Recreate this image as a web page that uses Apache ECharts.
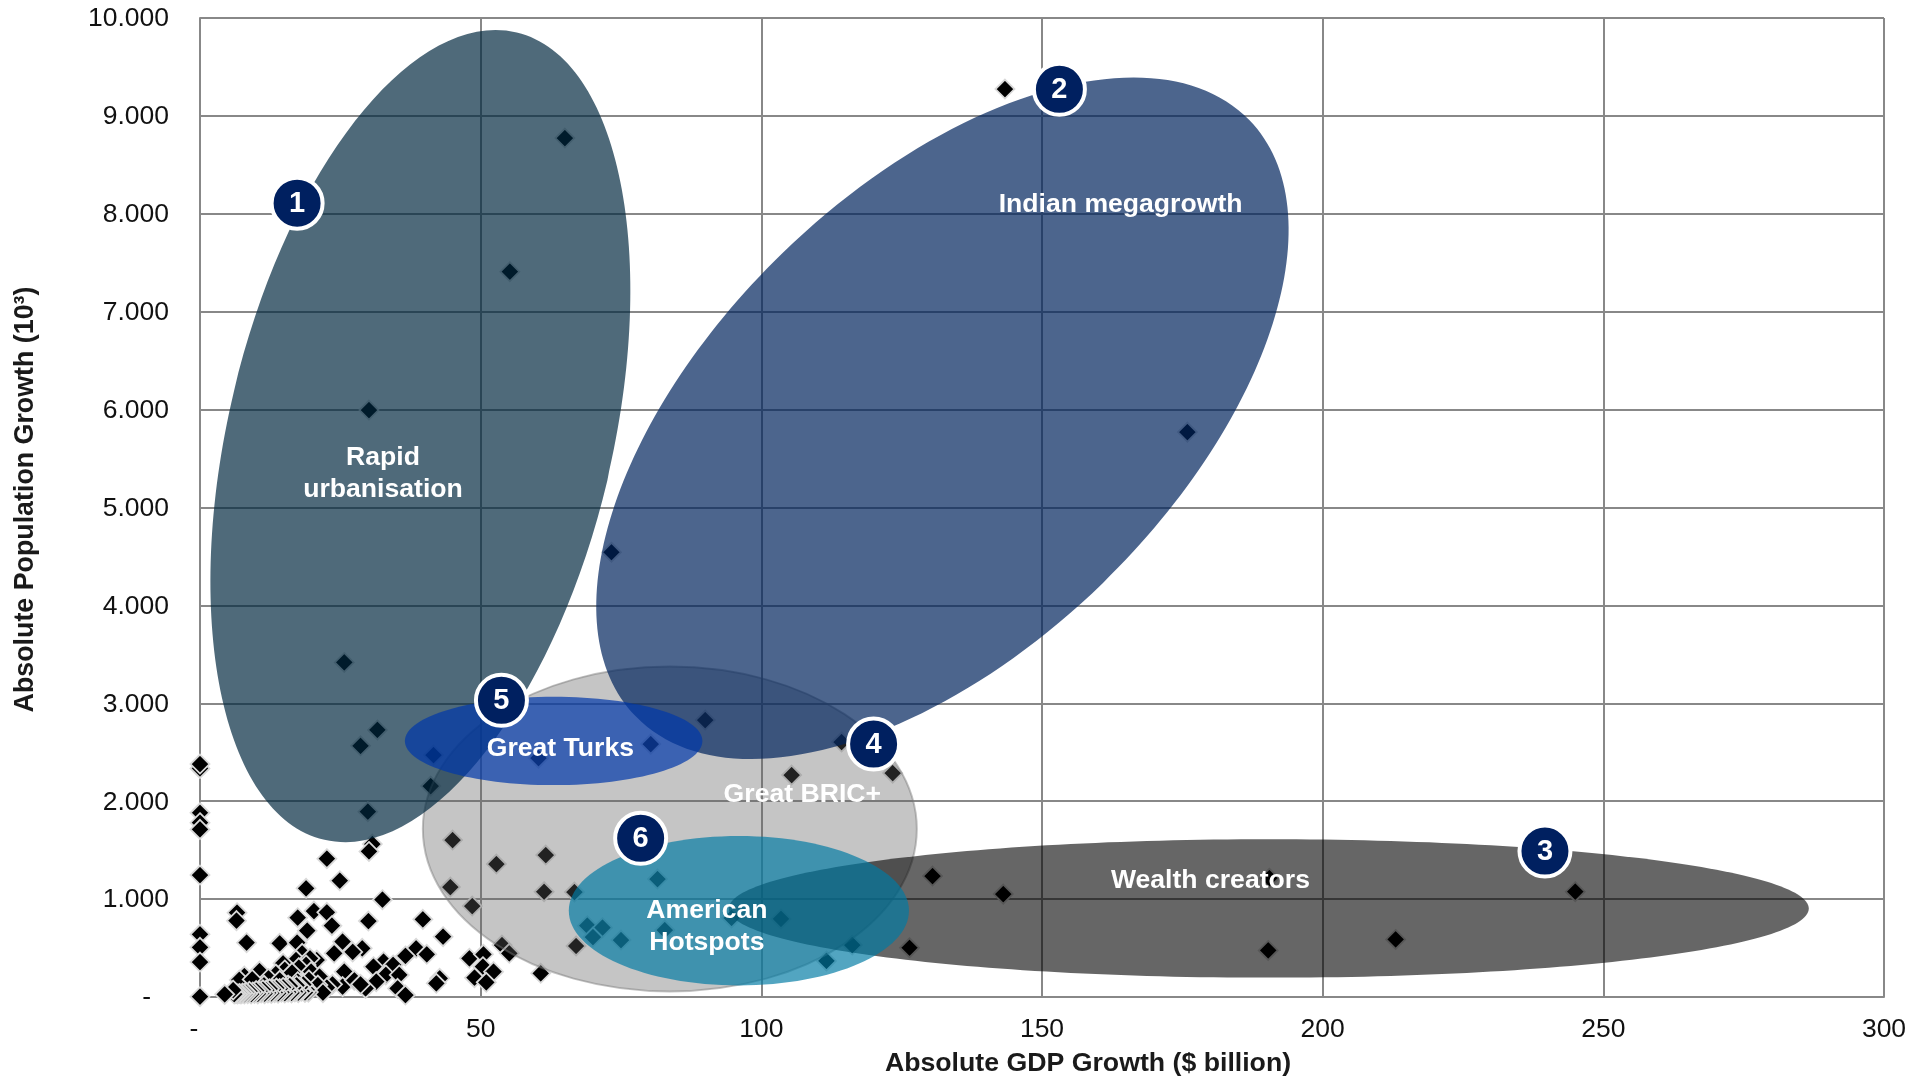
<!DOCTYPE html>
<html>
<head>
<meta charset="utf-8">
<title>GDP and population growth by city cluster</title>
<script src="https://cdn.jsdelivr.net/npm/echarts@6/dist/echarts.min.js"></script>
<style>
html,body{margin:0;padding:0;background:#fff}
#chart{width:1921px;height:1078px}
</style>
</head>
<body>
<div id="chart"></div>
<script>
// Cities: [absolute GDP growth ($ billion), absolute population growth (thousands)]
const upperCities = [
  [65.0,8774],[55.2,7409],[30.1,5995],[143.4,9274],[175.9,5770],[73.3,4543],[25.7,3417],
  [28.6,2566],[31.6,2728],[41.6,2471],[41.1,2155],[60.3,2440],[80.3,2583],[90,2829],
  [114.3,2604],[105.4,2267],[123.4,2287],[0,2335],[0,2379],[0,1882],[0,1780],[0,1712],
  [30.7,1562],[30.1,1487],[29.9,1893],[45,1603],[52.8,1358],[61.6,1450],[44.6,1123],
  [61.3,1075],[66.7,1072],[48.5,929],[81.5,1205],[130.5,1235],[143.1,1051],[190.5,1214],
  [245,1076],[213,588],[190.3,476],[126.4,503],[116.2,531],[111.6,368],[103.5,797],
  [94.7,807],[82.8,684],[69,728],[71.7,708],[70,612],[75,582],[67,521],[0,1246],[22.6,1413],
  [24.9,1188],[18.9,1110],[32.5,994],[30,776],[39.7,793]
];
const middleCities = [
  [6.6,861],[6.5,780],[20.3,878],[22.6,865],[17.4,810],[23.5,728],[19.1,677],[0,640],
  [43.3,616],[8.3,555],[14.2,548],[17.3,555],[25.4,565],[28.9,497],[27.2,460],[23.9,446],
  [38.5,497],[40.4,436],[36.6,419],[53.8,531],[55.1,446],[0,507],[48,395],[50.5,436],
  [50.4,310],[52.3,259],[60.7,242],[48.9,197],[51,150],[42.7,191],[42.1,140],[0,357],
  [32.7,361],[34.4,327],[30.9,310],[33.1,225],[35.5,225],[31.4,157],[29.5,88],[25.7,259],
  [25.4,106],[35.2,88],[36.6,20],[27.5,170],[28.6,130]
];
const lowerCities = [
  [18.2,446],[20.8,378],[17.1,378],[19.6,395],[14.8,344],[15.1,276],[18.9,327],[13.5,235],
  [10.6,265],[17.6,300],[19.8,259],[21.3,207],[16.4,250],[7.9,214],[7,174],[12.2,190],
  [9.3,180],[14.2,170],[17.4,156],[19.4,175],[23.6,130],[22.6,95],[15.7,122],[11.4,120],
  [21,122],[19,88],[21.9,44],[0,3]
];
// Smallest cities, packed together just above the origin
const smallestCities = [
  [19.3,50],[19,72],[18.7,46],[18.4,126],[18.1,58],[17.8,104],[17.5,44],[17.2,118],[16.9,52],
  [16.6,96],[16.3,42],[16,110],[15.7,50],[15.4,90],[15.1,40],[14.8,98],[14.5,48],[14.2,86],
  [13.9,38],[13.6,92],[13.3,44],[13,78],[12.7,36],[12.4,84],[12.1,42],[11.8,70],[11.5,34],
  [11.2,74],[10.9,40],[10.6,60],[10.3,32],[10,66],[9.7,36],[9.4,52],[9.1,30],[8.8,58],
  [8.5,34],[8.2,45],[7.9,30],[7.6,40],[7.3,30],[7,36],[6.7,30],[6.4,34],[6.1,30],[5.9,71],[4.4,27]
];

// Clusters: [x centre, y centre, x radius, y radius, tilt in degrees]
const clusterShapes = [
  [83.7,1716,44,1659,0],
  [39.3,5729,34.2,4238,-13.4],
  [132.3,5912,76.2,2349,44.2],
  [190.4,905,96.2,707,0],
  [63,2616,26.5,451,0],
  [96,881,30.3,763,0]
];
const clusterFills = [
  'rgba(95,95,95,0.36)',
  'rgba(0,39,62,0.69)',
  'rgba(0,36,93,0.70)',
  'rgba(0,0,0,0.60)',
  'rgba(0,56,170,0.70)',
  'rgba(0,122,163,0.68)'
];
const clusterEdges = ['rgba(120,120,120,0.45)','none','none','none','none','none'];

// Cluster names: [x, y, text]
const clusterNames = [
  [32.6,5364,'Rapid\nurbanisation'],
  [164,8104,'Indian megagrowth'],
  [64.2,2547,'Great Turks'],
  [107.3,2087,'Great BRIC+'],
  [90.3,735,'American\nHotspots'],
  [180,1199,'Wealth creators']
];
// Numbered badges: [x, y, number]
const clusterBadges = [
  [17.3,8108,'1'],[153.1,9272,'2'],[239.6,1491,'3'],
  [120,2584,'4'],[53.7,3030,'5'],[78.5,1621,'6']
];

const xAxisTitle = 'Absolute GDP Growth ($ billion)';
const yAxisTitle = 'Absolute Population Growth (10³)';

const FONT = '"Liberation Sans", Arial, sans-serif';
const GRID = '#888888';

function thousands(v) {
  return String(v).replace(/\B(?=(\d{3})+$)/g, '.');
}

const chart = echarts.init(document.getElementById('chart'), null, {renderer: 'canvas'});

function drawCluster(params, api) {
  const i = params.dataIndex;
  const c = api.coord([api.value(0), api.value(1)]);
  const s = api.size([api.value(2), api.value(3)]);
  return {
    type: 'ellipse',
    shape: {cx: c[0], cy: c[1], rx: s[0], ry: s[1]},
    originX: c[0],
    originY: c[1],
    rotation: api.value(4) * Math.PI / 180,
    style: {fill: clusterFills[i], stroke: clusterEdges[i], lineWidth: 2}
  };
}

chart.setOption({
  animation: false,
  backgroundColor: '#ffffff',
  grid: {left: 200, right: 37, top: 18, bottom: 81, containLabel: false, outerBoundsMode: 'none'},
  xAxis: {
    type: 'value', min: 0, max: 300, interval: 50,
    name: xAxisTitle, nameLocation: 'middle', nameGap: 53,
    nameTextStyle: {fontFamily: FONT, fontWeight: 'bold', fontSize: 26.7, color: '#1a1a1a', padding: [0,0,0,92]},
    axisLine: {show: true, onZero: false, lineStyle: {color: GRID, width: 2}},
    axisTick: {show: false},
    splitLine: {show: true, lineStyle: {color: GRID, width: 2}},
    axisLabel: {
      margin: 19, fontFamily: FONT, fontSize: 26.5, color: '#111',
      formatter: v => v === 0 ? '{dash|-}' : thousands(v),
      rich: {dash: {fontFamily: FONT, fontSize: 26.5, color: '#111', padding: [0,12,0,0]}}
    }
  },
  yAxis: {
    type: 'value', min: 0, max: 10000, interval: 1000,
    name: yAxisTitle, nameLocation: 'middle', nameGap: 161,
    nameTextStyle: {fontFamily: FONT, fontWeight: 'bold', fontSize: 26.8, color: '#1a1a1a', padding: [0,0,0,16]},
    axisLine: {show: true, onZero: false, lineStyle: {color: GRID, width: 2}},
    axisTick: {show: false},
    splitLine: {show: true, lineStyle: {color: GRID, width: 2}},
    axisLabel: {
      margin: 31, fontFamily: FONT, fontSize: 26.5, color: '#111', padding: [2,0,0,0],
      formatter: v => v === 0 ? '{dash|-}' : thousands(v),
      rich: {dash: {fontFamily: FONT, fontSize: 26.5, color: '#111', padding: [0,18,0,0]}}
    }
  },
  series: [
    {
      type: 'scatter', clip: false, z: 2, symbol: 'diamond', symbolSize: 19,
      itemStyle: {color: '#000', borderColor: '#d9d9d9', borderWidth: 1.8, opacity: 1},
      data: upperCities.concat(middleCities, lowerCities, smallestCities)
    },
    {
      type: 'custom', z: 3, clip: false, renderItem: drawCluster,
      encode: {x: 0, y: 1},
      data: clusterShapes
    },
    {
      type: 'scatter', z: 4, clip: false, symbolSize: 0,
      itemStyle: {opacity: 1},
      data: clusterNames,
      label: {
        show: true, position: 'inside', formatter: p => p.value[2], opacity: 1, offset: [0,1.5],
        fontFamily: FONT, fontWeight: 'bold', fontSize: 26.6, lineHeight: 32, color: '#ffffff', align: 'center'
      }
    },
    {
      type: 'scatter', z: 5, clip: false, symbol: 'circle', symbolSize: 51,
      itemStyle: {color: '#002060', borderColor: '#ffffff', borderWidth: 4, opacity: 1},
      data: clusterBadges,
      label: {
        show: true, position: 'inside', formatter: p => p.value[2], offset: [0,1],
        fontFamily: FONT, fontWeight: 'bold', fontSize: 29, color: '#ffffff'
      }
    }
  ]
});
</script>
</body>
</html>
